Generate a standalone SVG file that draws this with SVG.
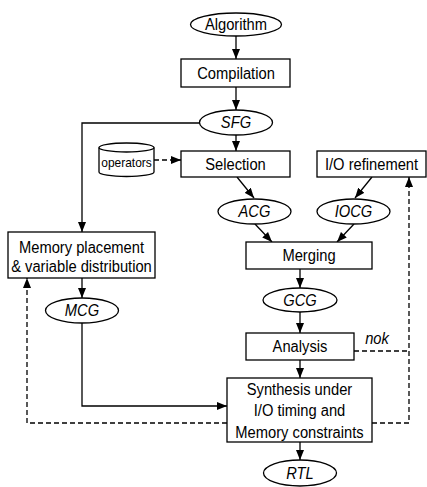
<svg xmlns="http://www.w3.org/2000/svg" width="427" height="487" viewBox="0 0 427 487">
<style>
.n{fill:#fff;stroke:#000;stroke-width:1.3}
.t{font-family:"Liberation Sans",Arial,sans-serif;font-size:16px;text-anchor:middle;fill:#000;transform-box:fill-box;transform-origin:center;transform:scaleX(0.92)}
.i{font-style:italic}
.c{fill:none;stroke:#000;stroke-width:1.3}
.d{stroke-dasharray:5,3}
</style>
<defs>
<marker id="a" markerUnits="userSpaceOnUse" markerWidth="10" markerHeight="8" refX="10" refY="4" orient="auto"><path d="M0,0 L10,4 L0,8 Z" fill="#000"/></marker>
</defs>
<g id="connectors">
<path class="c" d="M236,36 V59" marker-end="url(#a)"/>
<path class="c" d="M236,87 V110" marker-end="url(#a)"/>
<path class="c" d="M236,135 V151" marker-end="url(#a)"/>
<path class="c" d="M200,123 H82 V232" marker-end="url(#a)"/>
<path class="c d" d="M154,160 H181" marker-end="url(#a)"/>
<path class="c" d="M237,177 L254,198" marker-end="url(#a)"/>
<path class="c" d="M372,177 L355,198" marker-end="url(#a)"/>
<path class="c" d="M255,224 L272,242" marker-end="url(#a)"/>
<path class="c" d="M354,224 L337,242" marker-end="url(#a)"/>
<path class="c" d="M300,269 V288" marker-end="url(#a)"/>
<path class="c" d="M300,312 V333" marker-end="url(#a)"/>
<path class="c" d="M300,360 V378" marker-end="url(#a)"/>
<path class="c" d="M300,442 V460" marker-end="url(#a)"/>
<path class="c" d="M82,278 V298" marker-end="url(#a)"/>
<path class="c" d="M82,323 V406 H227" marker-end="url(#a)"/>
<path class="c d" d="M227,423 H27 V278" marker-end="url(#a)"/>
<path class="c d" d="M372,423 H409 V177" marker-end="url(#a)"/>
<path class="c d" d="M354,351 H409"/>
<text class="t i" x="377" y="344">nok</text>
</g>
<g id="algorithm"><ellipse class="n" cx="236" cy="24.5" rx="45.5" ry="11.5"/><text class="t" x="236" y="30.5">Algorithm</text></g>
<g id="compilation"><rect class="n" x="181" y="59" width="109" height="28"/><text class="t" x="236" y="79">Compilation</text></g>
<g id="sfg"><ellipse class="n" cx="236" cy="122.5" rx="36.5" ry="12.5"/><text class="t i" x="236" y="128.5">SFG</text></g>
<g id="operators"><path class="n" d="M99,147.5 V172 A27.5,4.5 0 0 0 154,172 V147.5"/><ellipse class="n" cx="126.5" cy="147.5" rx="27.5" ry="4.5"/><text class="t" style="font-size:13px" x="126.5" y="167.5">operators</text></g>
<g id="selection"><rect class="n" x="181" y="151" width="109" height="26"/><text class="t" x="235.5" y="170">Selection</text></g>
<g id="io-refinement"><rect class="n" x="317" y="151" width="109" height="26"/><text class="t" x="371.5" y="170">I/O refinement</text></g>
<g id="acg"><ellipse class="n" cx="254.5" cy="211.5" rx="36.5" ry="12.5"/><text class="t i" x="254.5" y="217.5">ACG</text></g>
<g id="iocg"><ellipse class="n" cx="353.5" cy="211.5" rx="36.5" ry="12.5"/><text class="t i" x="353.5" y="217.5">IOCG</text></g>
<g id="merging"><rect class="n" x="246" y="242" width="126" height="27"/><text class="t" x="309" y="261.5">Merging</text></g>
<g id="gcg"><ellipse class="n" cx="300" cy="300" rx="37" ry="12"/><text class="t i" x="300" y="306">GCG</text></g>
<g id="memory-placement"><rect class="n" x="8" y="232" width="147" height="46"/><text class="t" x="81.5" y="253.5">Memory placement</text><text class="t" x="81.5" y="272">&amp; variable distribution</text></g>
<g id="mcg"><ellipse class="n" cx="82" cy="310.5" rx="36.5" ry="12.5"/><text class="t i" x="82" y="316.5">MCG</text></g>
<g id="analysis"><rect class="n" x="246" y="333" width="108" height="27"/><text class="t" x="300" y="352.5">Analysis</text></g>
<g id="synthesis"><rect class="n" x="227" y="378" width="145" height="64"/><text class="t" x="299.5" y="395">Synthesis under</text><text class="t" x="299.5" y="416.5">I/O timing and</text><text class="t" x="299.5" y="438.5">Memory constraints</text></g>
<g id="rtl"><ellipse class="n" cx="300" cy="473" rx="36.5" ry="13"/><text class="t i" x="300" y="479">RTL</text></g>
</svg>
